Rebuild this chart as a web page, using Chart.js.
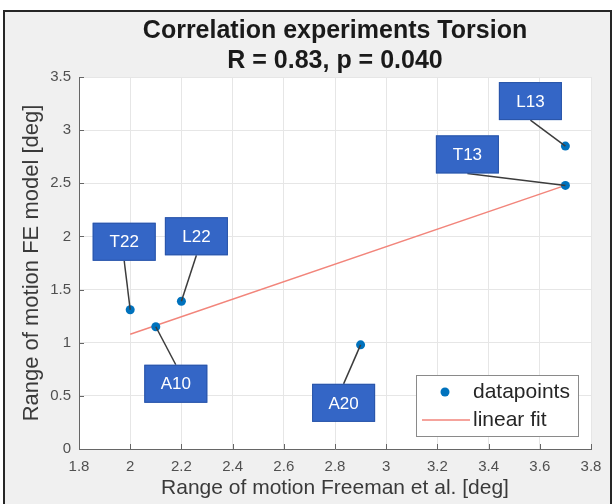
<!DOCTYPE html>
<html><head><meta charset="utf-8">
<script src="https://cdn.jsdelivr.net/npm/chart.js@4.4.0/dist/chart.umd.min.js"></script>
<style>html,body{margin:0;padding:0;background:#fff}#wrap{width:614px;height:504px;position:relative}</style>
</head><body><div id="wrap"><canvas id="c" width="614" height="504"></canvas></div>
<script>
// ---- data ----
const pointNames = ['T22', 'L22', 'A10', 'A20', 'T13', 'L13'];
const freemanROM = [2.0, 2.2, 2.1, 2.9, 3.7, 3.7];
const feModelROM = [1.31, 1.39, 1.15, 0.98, 2.48, 2.85];
const fitX = [2.0, 3.7];
const fitY = [1.08, 2.48];
const xTicks = [1.8, 2.0, 2.2, 2.4, 2.6, 2.8, 3.0, 3.2, 3.4, 3.6, 3.8];
const xTickLabels = ['1.8', '2', '2.2', '2.4', '2.6', '2.8', '3', '3.2', '3.4', '3.6', '3.8'];
const yTicks = [0, 0.5, 1, 1.5, 2, 2.5, 3, 3.5];
const yTickLabels = ['0', '0.5', '1', '1.5', '2', '2.5', '3', '3.5'];
const titleLines = ['Correlation experiments Torsion', 'R = 0.83, p = 0.040'];
const xTitle = 'Range of motion Freeman et al. [deg]';
const yTitle = 'Range of motion FE model [deg]';
const seriesNames = ['datapoints', 'linear fit'];

const FONT = "'Liberation Sans', Arial, Helvetica, sans-serif";
Chart.defaults.font.family = FONT;

// callout box offsets (pixels from the point to the box centre)
const calloutOffsets = [[-6, -68], [15, -65], [20, 57], [-17, 58], [-98, -31], [-35, -45]];

const framePlugin = {
  id: 'frame',
  beforeDraw(chart) {
    const { ctx, chartArea: a } = chart;
    ctx.save();
    ctx.fillStyle = '#ffffff';
    ctx.fillRect(0, 0, chart.width, chart.height);
    ctx.fillStyle = '#f0f0f0';
    ctx.fillRect(4, 11, 607, 500);
    ctx.strokeStyle = '#262626';
    ctx.lineWidth = 2;
    ctx.strokeRect(4, 11, 607, 500);
    ctx.fillStyle = '#ffffff';
    ctx.fillRect(a.left, a.top, a.right - a.left, a.bottom - a.top);
    ctx.restore();
  },
  beforeDatasetsDraw(chart) {
    const { ctx, scales: { x, y }, chartArea: a } = chart;
    ctx.save();
    ctx.strokeStyle = '#666666';
    ctx.lineWidth = 1;
    ctx.beginPath();
    x.ticks.forEach(t => {
      const px = Math.round(x.getPixelForValue(t.value)) + 0.5;
      ctx.moveTo(px, a.bottom); ctx.lineTo(px, a.bottom - 5);
    });
    y.ticks.forEach(t => {
      const py = Math.round(y.getPixelForValue(t.value)) + 0.5;
      ctx.moveTo(a.left, py); ctx.lineTo(a.left + 5, py);
    });
    ctx.stroke();
    ctx.restore();
  },
  afterDatasetsDraw(chart) {
    const { ctx } = chart;
    const meta = chart.getDatasetMeta(0);
    const w = 63, h = 38;
    ctx.save();
    meta.data.forEach((el, i) => {
      const px = el.x, py = el.y;
      const [dx, dy] = calloutOffsets[i];
      const cx = px + dx, cy = py + dy;
      const sy = dy < 0 ? cy + h / 2 : cy - h / 2;
      ctx.strokeStyle = '#3c3c3c';
      ctx.lineWidth = 1.5;
      ctx.beginPath(); ctx.moveTo(cx, sy); ctx.lineTo(px, py); ctx.stroke();
      ctx.fillStyle = '#3466c6';
      ctx.fillRect(cx - w / 2, cy - h / 2, w, h);
      ctx.strokeStyle = '#2a55a8';
      ctx.lineWidth = 1;
      ctx.strokeRect(cx - w / 2 + 0.5, cy - h / 2 + 0.5, w - 1, h - 1);
      ctx.fillStyle = '#ffffff';
      ctx.font = '17px ' + FONT;
      ctx.textAlign = 'center';
      ctx.textBaseline = 'middle';
      ctx.fillText(pointNames[i], cx, cy + 1);
    });
    ctx.restore();
  },
  afterDraw(chart) {
    const { ctx, chartArea: a } = chart;
    const ds = chart.data.datasets;
    const lx = a.right - 175, ly = a.bottom - 74, lw = 163, lh = 62;
    ctx.save();
    ctx.fillStyle = '#ffffff';
    ctx.fillRect(lx, ly, lw, lh);
    ctx.strokeStyle = '#8a8a8a';
    ctx.lineWidth = 1;
    ctx.strokeRect(lx + 0.5, ly + 0.5, lw - 1, lh - 1);
    ctx.font = '21px ' + FONT;
    ctx.fillStyle = '#262626';
    ctx.textAlign = 'left';
    ctx.textBaseline = 'middle';
    // row 1: datapoints
    ctx.beginPath();
    ctx.fillStyle = ds[0].backgroundColor;
    ctx.arc(lx + 29, ly + 17, 4.5, 0, Math.PI * 2);
    ctx.fill();
    ctx.fillStyle = '#262626';
    ctx.fillText(ds[0].label, lx + 57, ly + 17);
    // row 2: linear fit
    ctx.strokeStyle = ds[1].borderColor;
    ctx.lineWidth = 1.5;
    ctx.beginPath(); ctx.moveTo(lx + 6, ly + 45); ctx.lineTo(lx + 54, ly + 45); ctx.stroke();
    ctx.fillText(ds[1].label, lx + 57, ly + 45);
    ctx.restore();
  }
};

new Chart(document.getElementById('c'), {
  type: 'scatter',
  data: {
    datasets: [
      {
        label: seriesNames[0],
        data: freemanROM.map((x, i) => ({ x, y: feModelROM[i] })),
        backgroundColor: '#0072BD',
        borderWidth: 0,
        pointRadius: 4.5,
        pointHoverRadius: 4.5,
        showLine: false,
        order: 1
      },
      {
        label: seriesNames[1],
        type: 'line',
        data: fitX.map((x, i) => ({ x, y: fitY[i] })),
        borderColor: '#f2857b',
        borderWidth: 1.5,
        pointRadius: 0,
        fill: false,
        showLine: true,
        order: 2
      }
    ]
  },
  options: {
    responsive: false,
    devicePixelRatio: 1,
    animation: false,
    events: [],
    layout: { padding: { left: 8, right: 23, top: 6, bottom: 0 } },
    plugins: {
      legend: { display: false },
      tooltip: { enabled: false },
      title: {
        display: true,
        fullSize: false,
        text: titleLines,
        color: '#1a1a1a',
        font: { size: 25, weight: 'bold', lineHeight: 1.2 },
        padding: { top: 10, bottom: 1 }
      }
    },
    scales: {
      x: {
        type: 'linear',
        min: 1.8, max: 3.8,
        afterBuildTicks(s) { s.ticks = xTicks.map(v => ({ value: v })); },
        afterFit(s) { s.height = 55; },
        ticks: {
          callback: (v, i) => xTickLabels[i],
          color: '#505050',
          font: { size: 15 },
          padding: 9,
          maxRotation: 0,
          autoSkip: false
        },
        grid: { color: '#e6e6e6', drawTicks: false },
        border: { display: true, color: '#666666', width: 1 },
        title: {
          display: true, text: xTitle, color: '#3a3a3a',
          font: { size: 21 }, padding: { top: 0, bottom: 3 }
        }
      },
      y: {
        type: 'linear',
        min: 0, max: 3.5,
        afterBuildTicks(s) { s.ticks = yTicks.map(v => ({ value: v })); },
        afterFit(s) { s.width = 71; },
        ticks: {
          callback: (v, i) => yTickLabels[i],
          color: '#505050',
          font: { size: 15 },
          padding: 8,
          autoSkip: false
        },
        grid: { color: '#e6e6e6', drawTicks: false },
        border: { display: true, color: '#666666', width: 1 },
        title: {
          display: true, text: yTitle, color: '#3a3a3a',
          font: { size: 22 }, padding: { top: 11, bottom: 0 }
        }
      }
    }
  },
  plugins: [framePlugin]
});
</script>
</body></html>
